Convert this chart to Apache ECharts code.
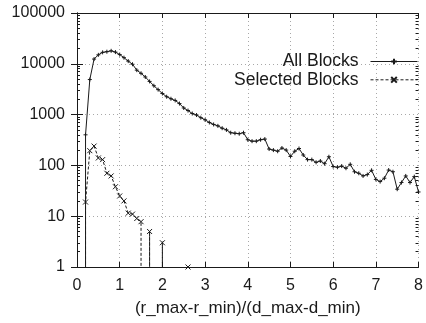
<!DOCTYPE html>
<html>
<head>
<meta charset="utf-8">
<script src="https://cdn.jsdelivr.net/npm/echarts@6/dist/echarts.min.js"></script>
<style>
html,body{margin:0;padding:0;background:#fff;}
#chart{width:426px;height:323px;}
</style>
</head>
<body>
<div id="chart"></div>
<script>
// ---- data (0 = empty bin, drawn below the log axis) ----
const allX = [0.2,0.2,0.3,0.4,0.5,0.6,0.7,0.8,0.9,1.0,1.1,1.2,1.3,1.4,1.5,1.6,1.7,1.8,1.9,2.0,
  2.1,2.2,2.3,2.4,2.5,2.6,2.7,2.8,2.9,3.0,3.1,3.2,3.3,3.4,3.5,3.6,3.7,3.8,3.9,4.0,
  4.1,4.2,4.3,4.4,4.5,4.6,4.7,4.8,4.9,5.0,5.1,5.2,5.3,5.4,5.5,5.6,5.7,5.8,5.9,6.0,
  6.1,6.2,6.3,6.4,6.5,6.6,6.7,6.8,6.9,7.0,7.1,7.2,7.3,7.4,7.5,7.6,7.7,7.8,7.9,8.0];
const allY = [0,400,4900,12400,15000,16800,17300,18000,17000,15200,13200,11300,9800,7500,6500,5500,4500,3700,3100,2600,
  2250,2050,1900,1650,1350,1200,1050,980,870,790,700,640,600,540,500,440,430,420,440,320,
  300,300,320,330,210,200,190,220,200,150,190,215,160,130,130,115,122,108,148,95,
  92,97,88,105,75,70,62,66,80,53,48,56,81,75,34,46,62,46,60,30];

const selX = [0.2,0.2,0.3,0.4,0.5,0.6,0.7,0.8,0.9,1.0,1.1,1.2,1.3,1.4,1.5,1.5,1.7,1.7,1.7,2.0,2.0,2.0,2.6];
const selY = [0,19,195,240,140,130,70,62,38,25,20,11.5,11,9,7.8,0,0,5,0,0,3,0,1];

const seriesNames = ['All Blocks', 'Selected Blocks'];
const xTicks = [0,1,2,3,4,5,6,7,8];
const yTicks = [1,10,100,1000,10000,100000];

// ---- build ----
const FLOOR = 0.001; // where a zero count is placed (off the bottom of the axis)
function pairs(xs, ys) {
  return xs.map((x, i) => ys[i] > 0 ? [x, ys[i]] : { value: [x, FLOOR], symbol: 'none' });
}
const minorVals = [];
for (let d = 1; d < 100000; d *= 10) for (let k = 2; k <= 9; k++) minorVals.push(d * k);

const FONT = '"Liberation Sans", Arial, Helvetica, sans-serif';
const INK = '#1a1a1a';
const gridLine = { show: true, lineStyle: { color: '#a8a8a8', type: [1, 3], width: 1 } };

const chart = echarts.init(document.getElementById('chart'), null, { renderer: 'canvas' });
chart.setOption({
  animation: false,
  backgroundColor: '#fff',
  textStyle: { fontFamily: FONT },
  grid: { left: 77, right: 6, top: 13, bottom: 56, containLabel: false },
  legend: {
    data: seriesNames,
    orient: 'vertical',
    align: 'right',
    right: 8,
    top: 52.5,
    padding: 0,
    itemGap: 0.3,
    itemWidth: 47,
    itemHeight: 7,
    lineStyle: { width: 1 },
    textStyle: { fontFamily: FONT, fontSize: 17.5, color: INK, lineHeight: 18, padding: [0, 7, 0, 0] }
  },
  xAxis: [{
    type: 'value', min: xTicks[0], max: xTicks[xTicks.length - 1], interval: 1, position: 'bottom',
    name: '(r_max-r_min)/(d_max-d_min)', nameLocation: 'middle', nameGap: 33,
    nameTextStyle: { fontFamily: FONT, fontSize: 17, color: INK },
    axisLine: { show: true, lineStyle: { color: INK, width: 1 } },
    axisTick: { show: true, inside: true, length: 5, lineStyle: { color: INK } },
    axisLabel: { fontFamily: FONT, fontSize: 16, color: INK, margin: 11 },
    splitLine: gridLine
  }, {
    type: 'value', min: xTicks[0], max: xTicks[xTicks.length - 1], interval: 1, position: 'top',
    axisLine: { show: true, lineStyle: { color: INK, width: 1 } },
    axisTick: { show: true, inside: true, length: 5, lineStyle: { color: INK } },
    axisLabel: { show: false }, splitLine: { show: false }
  }],
  yAxis: [{
    type: 'log', logBase: 10, min: yTicks[0], max: yTicks[yTicks.length - 1], position: 'left',
    axisLine: { show: true, lineStyle: { color: INK, width: 1 } },
    axisTick: { show: true, inside: true, length: 6, lineStyle: { color: INK } },
    axisLabel: { fontFamily: FONT, fontSize: 16, color: INK, margin: 12, formatter: v => String(Math.round(v)) },
    splitLine: gridLine
  }, {
    type: 'log', logBase: 10, min: yTicks[0], max: yTicks[yTicks.length - 1], position: 'right',
    axisLine: { show: true, lineStyle: { color: INK, width: 1 } },
    axisTick: { show: true, inside: true, length: 6, lineStyle: { color: INK } },
    axisLabel: { show: false }, splitLine: { show: false }
  }, {
    type: 'log', logBase: 10, min: yTicks[0], max: yTicks[yTicks.length - 1], position: 'left',
    axisLine: { show: false },
    axisTick: { show: true, inside: true, length: 3, customValues: minorVals, lineStyle: { color: INK } },
    axisLabel: { show: false }, splitLine: { show: false }
  }, {
    type: 'log', logBase: 10, min: yTicks[0], max: yTicks[yTicks.length - 1], position: 'right',
    axisLine: { show: false },
    axisTick: { show: true, inside: true, length: 3, customValues: minorVals, lineStyle: { color: INK } },
    axisLabel: { show: false }, splitLine: { show: false }
  }],
  series: [{
    name: seriesNames[0], type: 'line', clip: true,
    data: pairs(allX, allY),
    symbol: 'path://M5,0L5,10M0,5L10,5', symbolSize: 4,
    itemStyle: { color: 'rgba(0,0,0,0)', borderColor: INK, borderWidth: 1 },
    lineStyle: { color: INK, width: 1 }
  }, {
    name: seriesNames[1], type: 'line', clip: true,
    data: pairs(selX, selY),
    symbol: 'path://M0,0L10,10M10,0L0,10', symbolSize: 5,
    itemStyle: { color: 'rgba(0,0,0,0)', borderColor: INK, borderWidth: 1 },
    lineStyle: { color: INK, width: 1, type: [3, 2] }
  }]
});
</script>
</body>
</html>
